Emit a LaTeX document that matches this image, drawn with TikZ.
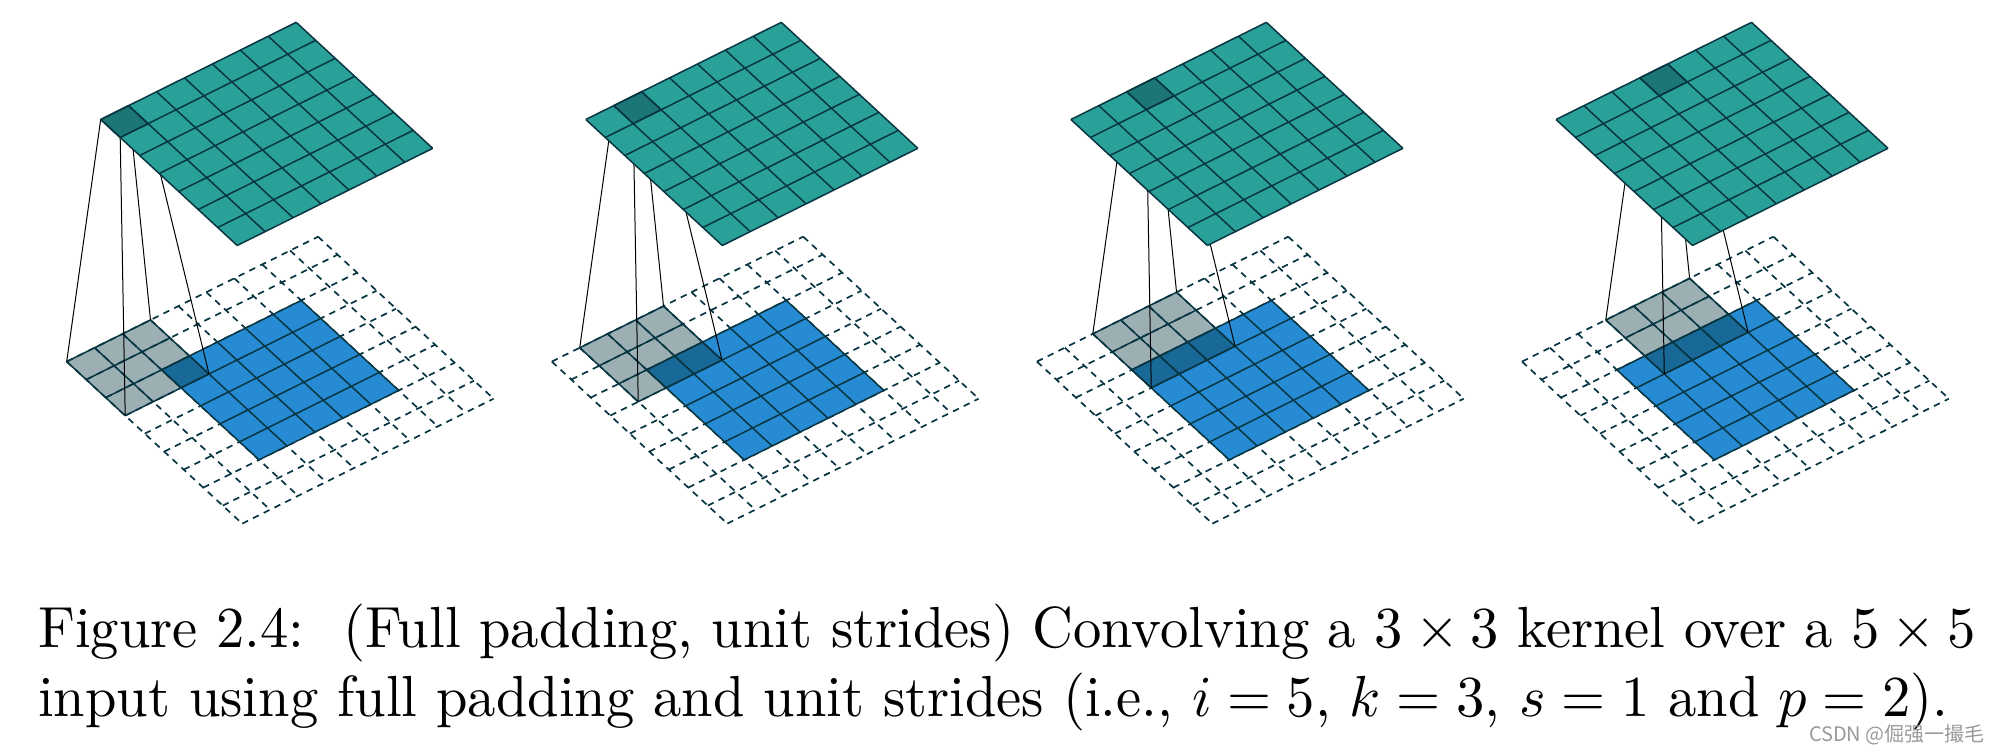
\documentclass[tikz,border=0pt]{standalone}
\usepackage[no-math]{fontspec}
\newfontfamily\cjkmark{Noto Sans CJK SC}
\usetikzlibrary{calc}
\definecolor{tealtop}{HTML}{2AA198}
\definecolor{blueinput}{HTML}{268BD2}
\definecolor{basedark}{HTML}{073642}
\tikzset{
  x=1pt,y=-1pt,
  gridline/.style={draw=basedark,line width=1.5pt,line join=round},
  dashline/.style={draw=basedark,line width=1.7pt,dash pattern=on 6.5pt off 5.5pt},
  linkline/.style={draw=black,line width=1pt},
  tint/.style={fill=basedark,fill opacity=0.4,draw=none},
}
\newcommand{\sheetgrid}[6]{%
  \fill[#6] ($(#1)+#2*(U)+#3*(V)$) -- ($(#1)+#2*(U)+#4*(U)+#3*(V)$) -- ($(#1)+#2*(U)+#4*(U)+#3*(V)+#5*(V)$) -- ($(#1)+#2*(U)+#3*(V)+#5*(V)$) -- cycle;
  \pgfmathtruncatemacro{\ilast}{#4}\pgfmathtruncatemacro{\jlast}{#5}%
  \foreach \n in {0,...,\ilast}{\draw[gridline] ($(#1)+#2*(U)+\n*(U)+#3*(V)$) -- ($(#1)+#2*(U)+\n*(U)+#3*(V)+#5*(V)$);}
  \foreach \n in {0,...,\jlast}{\draw[gridline] ($(#1)+#2*(U)+#3*(V)+\n*(V)$) -- ($(#1)+#2*(U)+#4*(U)+#3*(V)+\n*(V)$);}
}
\begin{document}
\begin{tikzpicture}
\useasboundingbox (0,0) rectangle (2000,752);
\coordinate (U) at (27.93,-13.88);
\coordinate (V) at (19.5,18.0);
\foreach \k in {0,1,2,3}{
  \coordinate (B) at ($(66.7+485.1*\k,361.6)$);
  \coordinate (T) at ($(100.7+485.1*\k,119.5)$);
  % dashed 9x9 grid
  \foreach \n in {0,...,9}{
    \draw[dashline] ($(B)+\n*(U)$) -- ($(B)+\n*(U)+9*(V)$);
    \draw[dashline] ($(B)+\n*(V)$) -- ($(B)+\n*(V)+9*(U)$);
  }
  % input
  \sheetgrid{B}{2}{2}{5}{5}{blueinput}
  % kernel
  \fill[tint] ($(B)+\k*(U)$) -- ($(B)+\k*(U)+3*(U)$) -- ($(B)+\k*(U)+3*(U)+3*(V)$) -- ($(B)+\k*(U)+3*(V)$) -- cycle;
  \foreach \n in {0,...,3}{
    \draw[gridline] ($(B)+\k*(U)+\n*(U)$) -- ($(B)+\k*(U)+\n*(U)+3*(V)$);
    \draw[gridline] ($(B)+\k*(U)+\n*(V)$) -- ($(B)+\k*(U)+\n*(V)+3*(U)$);
  }
  % links from kernel corners to output cell corners
  \coordinate (ka) at ($(B)+\k*(U)$);
  \coordinate (kb) at ($(ka)+3*(V)$);
  \coordinate (kc) at ($(ka)+3*(U)$);
  \coordinate (kd) at ($(ka)+3*(U)+3*(V)$);
  \coordinate (oa) at ($(T)+\k*(U)$);
  \coordinate (ob) at ($(oa)+(V)$);
  \coordinate (oc) at ($(oa)+(U)$);
  \coordinate (od) at ($(oa)+(U)+(V)$);
  \draw[linkline] (ka) -- (oa);
  \draw[linkline] (kb) -- (ob);
  \draw[linkline] (kc) -- (oc);
  \draw[linkline] (kd) -- (od);
  % output
  \sheetgrid{T}{0}{0}{7}{7}{tealtop}
  \fill[tint] (oa) -- (oc) -- (od) -- (ob) -- cycle;
  \draw[gridline] (oa) -- (oc) -- (od) -- (ob) -- cycle;
}
\node[anchor=base west,inner sep=0pt] (caption) at (38,716) {\scalebox{5.66}[5.8]{\parbox[b]{342.4pt}{\baselineskip=11.75pt Figure 2.4:\hspace{0.25em} (Full padding, unit strides) Convolving a $3\times3$ kernel over a $5\times5$ input using full padding and unit strides (i.e., $i=5$, $k=3$, $s=1$ and $p=2$).}}};
\node[anchor=base east,inner sep=0pt,text=black!40] (mark) at (1985,741) {\cjkmark\fontsize{20}{20}\selectfont CSDN @倔强一撮毛};
\end{tikzpicture}
\end{document}
